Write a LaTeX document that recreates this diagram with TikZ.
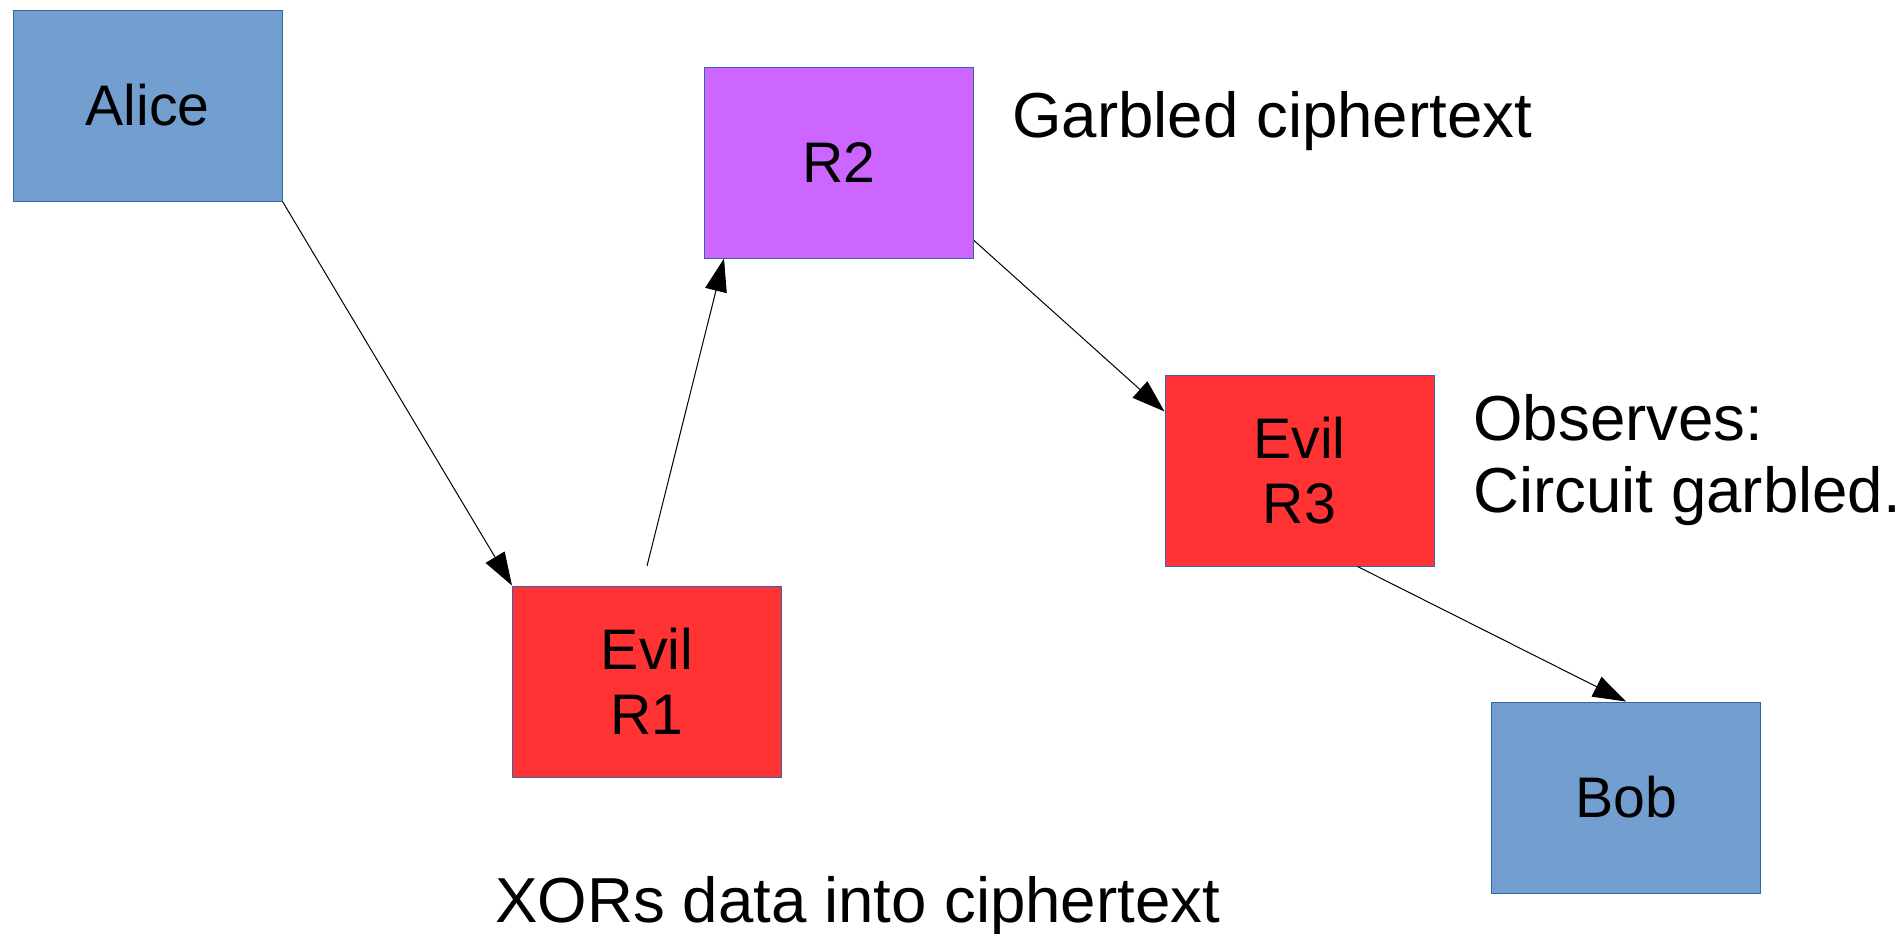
\documentclass[tikz,border=0pt]{standalone}
\usepackage{fontspec}
\setmainfont{Liberation Sans}
\usetikzlibrary{arrows.meta,calc}
\definecolor{boxblue}{HTML}{729FCF}
\definecolor{boxred}{HTML}{FF3333}
\definecolor{boxpurple}{HTML}{CC66FF}
\definecolor{edgeblue}{HTML}{3465A4}
\begin{document}
\begin{tikzpicture}[x=0.5pt,y=-0.5pt,
  box/.style={draw=edgeblue, line width=0.5pt, minimum width=134.5pt, minimum height=95.5pt,
    inner sep=0pt, font=\fontsize{28.6}{32.75}\selectfont, align=center},
  conn/.style={line width=0.5pt, -{Triangle[length=16.5pt,width=11pt]}},
  lbl/.style={font=\fontsize{31.8}{35.75}\selectfont, inner sep=0pt}]
\path[use as bounding box] (0,0) rectangle (1901,933);
\node[box, fill=boxblue]   (alice) at (147.5,105.5) {Alice};
\node[box, fill=boxpurple] (r2)    at (839,162.5)   {R2};
\node[box, fill=boxred]    (r1)    at (647,681.5)   {Evil\\R1};
\node[box, fill=boxred]    (r3)    at (1299.5,470.5) {Evil\\R3};
\node[box, fill=boxblue]   (bob)   at (1626,797.5)  {Bob};
\node[lbl, anchor=base west] (garbled)  at (1012,137) {Garbled ciphertext};
\node[lbl, anchor=base west] (observes) at (1473,440) {Observes:};
\node[lbl, anchor=base west] (circuit)  at (1473,512) {Circuit garbled.};
\node[lbl, anchor=base west] (xors)     at (495,922)  {XORs data into ciphertext};
\coordinate (r1top) at (647,566);
\draw[conn] (alice.south east) -- (r1.north west);
\draw[conn] (r1top) -- ($(r2.south west)+(20,0)$);
\draw[conn] ($(r2.south east)+(0,-18)$) -- ($(r3.north west)+(0,37)$);
\draw[conn] ($(r3.south)+(58,0)$) -- (bob.north);
\end{tikzpicture}
\end{document}
